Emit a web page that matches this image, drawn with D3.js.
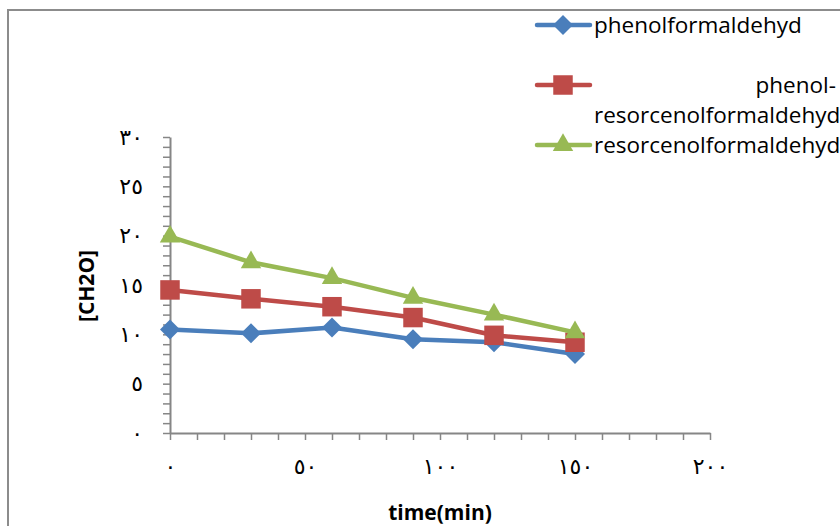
<!DOCTYPE html>
<html>
<head>
<meta charset="utf-8">
<script src="https://cdn.jsdelivr.net/npm/d3@7"></script>
<style>
  body { margin: 0; background: #fff; }
  text { font-family: 'Open Sans', 'Noto Sans', sans-serif; }
  .num { font-family: 'DejaVu Sans', sans-serif; }
</style>
</head>
<body>
<div id="chart"></div>
<script>
let times = [0, 30, 60, 90, 120, 150]
let phenolF = [10.5, 10.1, 10.7, 9.5, 9.2, 8.0]
let phenolResorcenolF = [14.5, 13.6, 12.8, 11.7, 9.9, 9.2]
let resorcenolF = [19.9, 17.3, 15.7, 13.7, 12.0, 10.2]

let seriesNames = ['phenolformaldehyd', 'phenol-resorcenolformaldehyd', 'resorcenolformaldehyd']

let xTickValues = [0, 50, 100, 150, 200]
let xTickLabels = ['٠', '٥٠', '١٠٠', '١٥٠', '٢٠٠']
let yTickValues = [0, 5, 10, 15, 20, 25, 30]
let yTickLabels = ['٠', '٥', '١٠', '١٥', '٢٠', '٢٥', '٣٠']

let width = 840
let height = 526

let svg = d3
  .select('#chart')
  .append('svg')
  .attr('width', width)
  .attr('height', height)

// chart area border (cut off on right and bottom)
svg
  .append('rect')
  .attr('x', 8)
  .attr('y', 10)
  .attr('width', 900)
  .attr('height', 600)
  .attr('fill', 'none')
  .attr('stroke', '#8c8c8c')
  .attr('stroke-width', 2)

let xScale = d3.scaleLinear().domain([0, 200]).range([170, 710])
let yScale = d3.scaleLinear().domain([0, 30]).range([433, 137])

let axisColor = '#868686'

// x axis: ticks every 10, labels every 50
let xAxis = d3
  .axisBottom(xScale)
  .tickValues(d3.range(0, 201, 10))
  .tickSize(7)
  .tickPadding(18)
  .tickSizeOuter(0)
  .tickFormat(d => {
    let i = xTickValues.indexOf(d)
    return i >= 0 ? xTickLabels[i] : ''
  })

let gx = svg
  .append('g')
  .attr('transform', `translate(0, ${yScale(0)})`)
  .call(xAxis)

// y axis: ticks every 1, labels every 5
let yAxis = d3
  .axisLeft(yScale)
  .tickValues(d3.range(0, 31, 1))
  .tickSize(7)
  .tickPadding(20)
  .tickSizeOuter(0)
  .tickFormat(d => {
    let i = yTickValues.indexOf(d)
    return i >= 0 ? yTickLabels[i] : ''
  })

let gy = svg
  .append('g')
  .attr('transform', `translate(${xScale(0)}, 0)`)
  .call(yAxis)

;[gx, gy].forEach(g => {
  g.select('.domain').attr('stroke', axisColor).attr('stroke-width', 2)
  g.selectAll('.tick line').attr('stroke', axisColor).attr('stroke-width', 1.5)
  g.selectAll('.tick text')
    .attr('class', 'num')
    .attr('fill', '#000')
    .style('font-size', '22px')
})

// axis titles
svg
  .append('text')
  .attr('x', 440)
  .attr('y', 520)
  .attr('text-anchor', 'middle')
  .style('font-size', '21px')
  .style('font-weight', 'bold')
  .text('time(min)')

svg
  .append('text')
  .attr('transform', 'translate(94, 286) rotate(-90)')
  .attr('text-anchor', 'middle')
  .style('font-size', '21px')
  .style('font-weight', 'bold')
  .text('[CH2O]')

// series
let series = [
  { name: seriesNames[0], values: phenolF, color: '#4a7ebb', symbol: 'diamond' },
  { name: seriesNames[1], values: phenolResorcenolF, color: '#be4b48', symbol: 'square' },
  { name: seriesNames[2], values: resorcenolF, color: '#98b954', symbol: 'triangle' }
]

let symbolPath = {
  diamond: d3.symbol().type(d3.symbolSquare).size(200)(),
  square: d3.symbol().type(d3.symbolSquare).size(380)(),
  triangle: d3.symbol().type(d3.symbolTriangle).size(180)()
}
let symbolRotate = { diamond: 45, square: 0, triangle: 0 }

let line = d3
  .line()
  .x((d, i) => xScale(times[i]))
  .y(d => yScale(d))

series.forEach(s => {
  let g = svg.append('g')

  g.append('path')
    .datum(s.values)
    .attr('d', line)
    .attr('fill', 'none')
    .attr('stroke', s.color)
    .attr('stroke-width', 4.5)
    .attr('stroke-linejoin', 'round')

  g.selectAll('.marker')
    .data(s.values)
    .enter()
    .append('path')
    .attr('class', 'marker')
    .attr('d', symbolPath[s.symbol])
    .attr('transform', (d, i) => `translate(${xScale(times[i])}, ${yScale(d)}) rotate(${symbolRotate[s.symbol]})`)
    .attr('fill', s.color)
})

// legend
let legendY = [25, 85, 145]
let legend = svg.append('g')

series.forEach((s, i) => {
  legend
    .append('line')
    .attr('x1', 537)
    .attr('x2', 590)
    .attr('y1', legendY[i])
    .attr('y2', legendY[i])
    .attr('stroke', s.color)
    .attr('stroke-width', 4.5)
    .attr('stroke-linecap', 'round')

  legend
    .append('path')
    .attr('d', symbolPath[s.symbol])
    .attr('transform', `translate(563, ${legendY[i]}) rotate(${symbolRotate[s.symbol]})`)
    .attr('fill', s.color)
})

let legendText = legend
  .append('g')
  .style('font-size', '22.5px')
  .attr('fill', '#000')

legendText.append('text').attr('x', 594).attr('y', 25).attr('dy', '0.35em').text(seriesNames[0])
legendText.append('text').attr('x', 836).attr('y', 85).attr('dy', '0.35em').attr('text-anchor', 'end').text('phenol-')
legendText.append('text').attr('x', 594).attr('y', 115).attr('dy', '0.35em').text('resorcenolformaldehyd')
legendText.append('text').attr('x', 594).attr('y', 145).attr('dy', '0.35em').text(seriesNames[2])
</script>
</body>
</html>
